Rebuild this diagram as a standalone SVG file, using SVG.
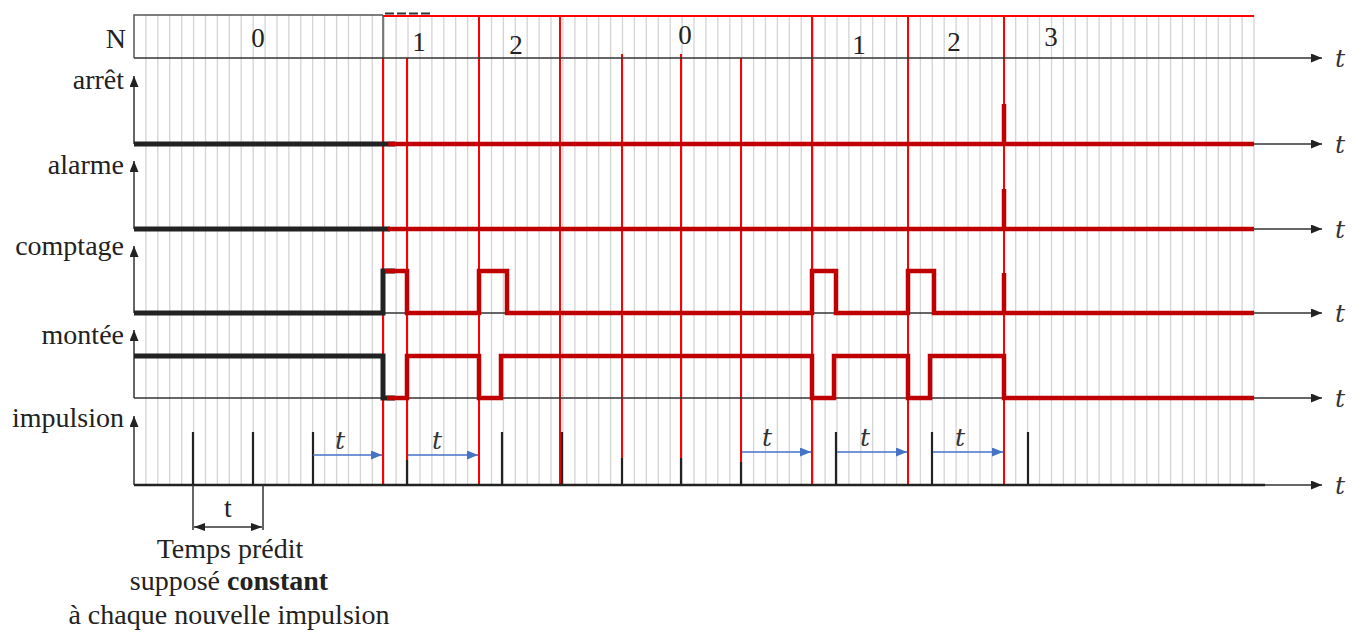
<svg xmlns="http://www.w3.org/2000/svg" width="1362" height="633" viewBox="0 0 1362 633">
<defs>
<marker id="ah" markerUnits="userSpaceOnUse" markerWidth="12" markerHeight="10" refX="11" refY="4.5" orient="auto"><path d="M0,0 L11,4.5 L0,9 z" fill="#222"/></marker>
<marker id="bh" markerUnits="userSpaceOnUse" markerWidth="12" markerHeight="10" refX="11" refY="4.5" orient="auto"><path d="M0,0 L11,4.5 L0,9 z" fill="#4472c4"/></marker>
<marker id="dh" markerUnits="userSpaceOnUse" markerWidth="12" markerHeight="10" refX="11" refY="4" orient="auto-start-reverse"><path d="M0,0 L11,4 L0,8 z" fill="#222"/></marker>
<style>
.grid{stroke:#d4d4d4;stroke-width:1.3;fill:none}
.ax{stroke:#333;stroke-width:1.5;fill:none}
.box{stroke:#555;stroke-width:1.5;fill:none}
.red{stroke:#ff0000;stroke-width:2;fill:none}
.sig{stroke:#c00000;stroke-width:4.5;fill:none;stroke-linejoin:miter}
.bsig{stroke:#222;stroke-width:5;fill:none}
.tick{stroke:#222;stroke-width:2.2;fill:none}
.blue{stroke:#4472c4;stroke-width:1.5;fill:none}
.lbl{font-family:"Liberation Serif",serif;font-size:28px;fill:#222}
.num{font-family:"Liberation Serif",serif;font-size:27px;fill:#222;text-anchor:middle}
.tt{font-family:"DejaVu Serif",serif;font-style:italic;font-size:25px;fill:#333}
.cap{font-family:"Liberation Serif",serif;font-size:28px;fill:#222;text-anchor:middle}
</style>
</defs>
<g id="grid">
<path class="grid" d="M145.9 15V485M157.8 15V485M169.7 15V485M181.7 15V485M193.6 15V485M205.5 15V485M217.4 15V485M229.3 15V485M241.2 15V485M253.2 15V485M265.1 15V485M277 15V485M288.9 15V485M300.8 15V485M312.7 15V485M324.6 15V485M336.6 15V485M348.5 15V485M360.4 15V485M372.3 15V485M384.2 15V485M396.1 15V485M408 15V485M420 15V485M431.9 15V485M443.8 15V485M455.7 15V485M467.6 15V485M479.5 15V485M491.5 15V485M503.4 15V485M515.3 15V485M527.2 15V485M539.1 15V485M551 15V485M562.9 15V485M574.9 15V485M586.8 15V485M598.7 15V485M610.6 15V485M622.5 15V485M634.4 15V485M646.3 15V485M658.3 15V485M670.2 15V485M682.1 15V485M694 15V485M705.9 15V485M717.8 15V485M729.8 15V485M741.7 15V485M753.6 15V485M765.5 15V485M777.4 15V485M789.3 15V485M801.2 15V485M813.2 15V485M825.1 15V485M837 15V485M848.9 15V485M860.8 15V485M872.7 15V485M884.6 15V485M896.6 15V485M908.5 15V485M920.4 15V485M932.3 15V485M944.2 15V485M956.1 15V485M968.1 15V485M980 15V485M991.9 15V485M1003.8 15V485M1015.7 15V485M1027.6 15V485M1039.5 15V485M1051.5 15V485M1063.4 15V485M1075.3 15V485M1087.2 15V485M1099.1 15V485M1111 15V485M1123 15V485M1134.9 15V485M1146.8 15V485M1158.7 15V485M1170.6 15V485M1182.5 15V485M1194.4 15V485M1206.4 15V485M1218.3 15V485M1230.2 15V485M1242.1 15V485M1254 15V485"/>
</g>
<g id="N-row">
<path class="box" d="M383 15H134V58M383 15V58"/>
<path d="M385 13.5H432" stroke="#333" stroke-width="2" stroke-dasharray="9,3"/>
<text class="lbl" x="126" y="48" text-anchor="end">N</text>
<text class="num" x="258" y="47">0</text>
<text class="num" x="419" y="51">1</text>
<text class="num" x="516" y="54">2</text>
<text class="num" x="685" y="44">0</text>
<text class="num" x="859" y="54">1</text>
<text class="num" x="954" y="51">2</text>
<text class="num" x="1051" y="46">3</text>
</g>
<g id="red-markers">
<path class="red" d="M383 16H1254M383 58V485M407 58V460M479 15V485M560 15V485M622 54V458M681 54V458M741 58V462M812 15V485M908 15V485M1004 15V485"/>
</g>
<g id="axes">
<path class="ax" marker-end="url(#ah)" d="M134 58H1322"/>
<path class="ax" marker-end="url(#ah)" d="M134 144H1322"/>
<path class="ax" marker-end="url(#ah)" d="M134 229H1322"/>
<path class="ax" marker-end="url(#ah)" d="M134 313H1322"/>
<path class="ax" marker-end="url(#ah)" d="M134 398H1322"/>
<path class="ax" marker-end="url(#ah)" d="M134 485H1322"/>
<path class="ax" marker-end="url(#ah)" d="M134 144V76"/>
<path class="ax" marker-end="url(#ah)" d="M134 229V161"/>
<path class="ax" marker-end="url(#ah)" d="M134 313V246"/>
<path class="ax" marker-end="url(#ah)" d="M134 398V330"/>
<path class="ax" marker-end="url(#ah)" d="M134 485V416"/>
<path d="M134 485H1265" stroke="#222" stroke-width="2.5"/>
<text class="tt" x="1335" y="67">t</text>
<text class="tt" x="1335" y="153">t</text>
<text class="tt" x="1335" y="238">t</text>
<text class="tt" x="1335" y="322">t</text>
<text class="tt" x="1335" y="407">t</text>
<text class="tt" x="1335" y="494">t</text>
</g>
<g id="arret">
<text class="lbl" x="124" y="89" text-anchor="end">arrêt</text>
<path class="bsig" d="M134 144H395"/>
<path class="sig" d="M388 144H1004V104V144H1254"/>
</g>
<g id="alarme">
<text class="lbl" x="124" y="174" text-anchor="end">alarme</text>
<path class="bsig" d="M134 229H390"/>
<path class="sig" d="M388 229H1004V189V229H1254"/>
</g>
<g id="comptage">
<text class="lbl" x="124" y="255" text-anchor="end">comptage</text>
<path class="bsig" d="M134 313H383V271H395"/>
<path class="sig" d="M385 271H407V313H479V271H507V313H812V271H836V313H908V271H934V313H1004V273V313H1254"/>
</g>
<g id="montee">
<text class="lbl" x="124" y="344" text-anchor="end">montée</text>
<path class="bsig" d="M134 356H383V398H395"/>
<path class="sig" d="M387 398H407V356H479V398H501V356H812V398H834V356H908V398H930V356H1004V398H1254"/>
</g>
<g id="impulsion">
<text class="lbl" x="124" y="427" text-anchor="end">impulsion</text>
<path class="tick" d="M193 432V485M253 432V485M313 432V485M407 460V485M502 432V485M562 432V485M622 458V485M681 458V485M741 462V485M836 432V485M932 432V485M1028 432V485"/>
</g>
<g id="intervals">
<path class="blue" marker-end="url(#bh)" d="M313 455H382"/>
<path class="blue" marker-end="url(#bh)" d="M408 455H478"/>
<path class="blue" marker-end="url(#bh)" d="M742 452H811"/>
<path class="blue" marker-end="url(#bh)" d="M837 452H907"/>
<path class="blue" marker-end="url(#bh)" d="M933 452H1003"/>
<text class="tt" x="335" y="449">t</text>
<text class="tt" x="432" y="449">t</text>
<text class="tt" x="762" y="446">t</text>
<text class="tt" x="860" y="446">t</text>
<text class="tt" x="955" y="446">t</text>
</g>
<g id="legend">
<path class="ax" d="M193 485V530M263 485V530"/>
<path class="ax" marker-start="url(#dh)" marker-end="url(#dh)" d="M194 527H262"/>
<text class="cap" x="228" y="517">t</text>
<text class="cap" x="230" y="558">Temps prédit</text>
<text class="cap" x="229" y="590">supposé <tspan font-weight="bold">constant</tspan></text>
<text class="cap" x="229" y="624">à chaque nouvelle impulsion</text>
</g>
</svg>
